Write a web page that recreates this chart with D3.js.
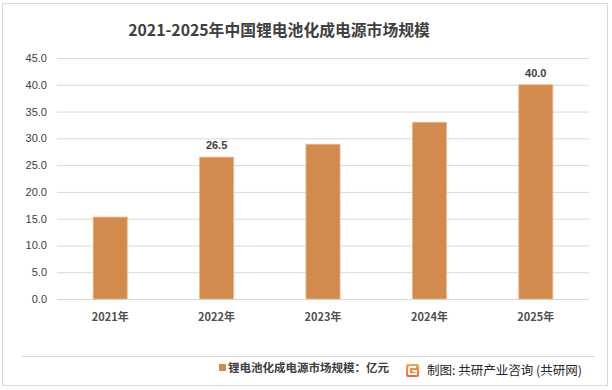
<!DOCTYPE html>
<html>
<head>
<meta charset="utf-8">
<script src="https://cdn.jsdelivr.net/npm/d3@7"></script>
<style>
  body { margin: 0; background: #fff; }
</style>
</head>
<body>
<svg width="612" height="390" font-family='"Noto Sans CJK SC", "Noto Sans", sans-serif'></svg>
<script>
const years = ['2021年', '2022年', '2023年', '2024年', '2025年'];
const values = [15.3, 26.5, 28.9, 33.0, 40.0];
const labelled = ['2022年', '2025年'];
const yTicks = [0, 5, 10, 15, 20, 25, 30, 35, 40, 45];

const svg = d3.select('svg');
const width = +svg.attr('width');
const height = +svg.attr('height');

const margin = {top: 58, right: 23, bottom: 91, left: 57};
const innerWidth = width - margin.left - margin.right;
const innerHeight = height - margin.top - margin.bottom;

// frame
svg.append('rect')
    .attr('x', 2.5).attr('y', 3.5)
    .attr('width', 605).attr('height', 382)
    .attr('fill', '#fff')
    .attr('stroke', '#d9d9d9');

svg.append('text')
    .attr('x', 279).attr('y', 36)
    .attr('text-anchor', 'middle')
    .attr('font-size', 15.8).attr('font-weight', 'bold')
    .attr('fill', '#404040')
    .text('2021-2025年中国锂电池化成电源市场规模');

const g = svg.append('g')
    .attr('transform', `translate(${margin.left}, ${margin.top})`);

const xScale = d3.scaleBand()
    .domain(years)
    .range([0, innerWidth])
    .paddingInner(0.68)
    .paddingOuter(0.34);

const yScale = d3.scaleLinear()
    .domain([0, 45])
    .range([innerHeight, 0]);

// gridlines
g.append('g')
    .call(d3.axisLeft(yScale).tickValues(yTicks).tickSize(-innerWidth))
    .call(a => a.select('.domain').remove())
    .call(a => a.selectAll('text').remove())
    .call(a => a.selectAll('line').attr('stroke', '#d9d9d9'));

const yAxis = g.append('g')
    .call(d3.axisLeft(yScale).tickValues(yTicks).tickSize(0).tickPadding(10)
        .tickFormat(d3.format('.1f')));
yAxis.select('.domain').remove();
yAxis.selectAll('text')
    .attr('font-size', 11).attr('fill', '#404040')
    .attr('font-family', '"Liberation Sans", sans-serif');

const xAxis = g.append('g')
    .attr('transform', `translate(0, ${innerHeight})`)
    .call(d3.axisBottom(xScale).tickSize(0).tickPadding(14));
xAxis.select('.domain').remove();
xAxis.selectAll('text')
    .attr('font-size', 11).attr('font-weight', 'bold').attr('fill', '#505050')
    .attr('font-family', '"Noto Sans CJK SC", sans-serif');

g.selectAll('rect.bar').data(years)
    .enter().append('rect')
        .attr('class', 'bar')
        .attr('x', d => xScale(d))
        .attr('y', (d, i) => yScale(values[i]))
        .attr('width', xScale.bandwidth())
        .attr('height', (d, i) => innerHeight - yScale(values[i]))
        .attr('fill', '#d38b4d')
        .attr('stroke', '#e8b88e')
        .attr('stroke-width', 0.8);

g.selectAll('text.val').data(years.filter(d => labelled.includes(d)))
    .enter().append('text')
        .attr('class', 'val')
        .attr('x', d => xScale(d) + xScale.bandwidth() / 2)
        .attr('y', d => yScale(values[years.indexOf(d)]) - 8)
        .attr('text-anchor', 'middle')
        .attr('font-size', 11).attr('font-weight', 'bold')
        .attr('font-family', '"Liberation Sans", sans-serif')
        .attr('fill', '#404040')
        .text(d => values[years.indexOf(d)].toFixed(1));

// bottom separator and legend
svg.append('line')
    .attr('x1', 22).attr('x2', 595)
    .attr('y1', 356.5).attr('y2', 356.5)
    .attr('stroke', '#d9d9d9');

svg.append('rect')
    .attr('x', 219).attr('y', 364).attr('width', 7).attr('height', 7)
    .attr('fill', '#d38b4d');
svg.append('text')
    .attr('x', 228).attr('y', 372)
    .attr('font-size', 11.5).attr('font-weight', 'bold').attr('fill', '#404040')
    .text('锂电池化成电源市场规模：亿元');

const grad = svg.append('defs').append('linearGradient')
    .attr('id', 'lg').attr('x1', 0).attr('y1', 0).attr('x2', 0).attr('y2', 1);
grad.append('stop').attr('offset', 0).attr('stop-color', '#f8a64a');
grad.append('stop').attr('offset', 1).attr('stop-color', '#ec6a3a');

const logo = svg.append('g').attr('transform', 'translate(406,364)');
logo.append('rect').attr('width', 13).attr('height', 13).attr('rx', 2).attr('fill', 'url(#lg)');
logo.append('path')
    .attr('d', 'M3 3 H10 M3 3 V10 H10 V7 H6.5')
    .attr('fill', 'none').attr('stroke', '#fff').attr('stroke-width', 1.8);

svg.append('text')
    .attr('x', 427).attr('y', 375)
    .attr('font-size', 12.5).attr('fill', '#262626')
    .text('制图: 共研产业咨询 (共研网)');
</script>
</body>
</html>
